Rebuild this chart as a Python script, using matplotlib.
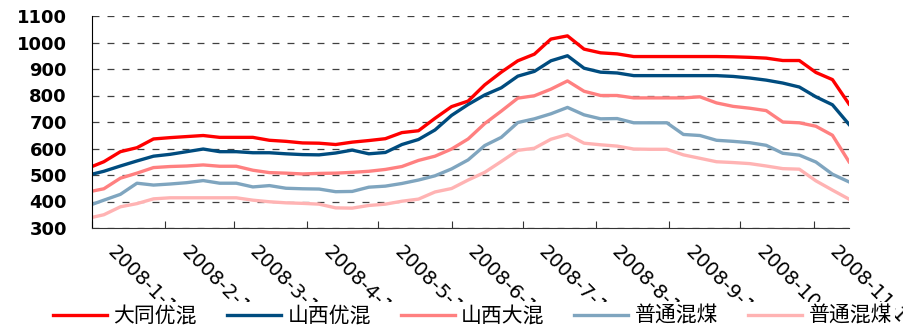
import pandas as pd
import matplotlib
matplotlib.use('Agg')
import matplotlib.pyplot as plt
import matplotlib.dates as mdates
from matplotlib.transforms import ScaledTranslation

plt.rcParams['font.family'] = ['DejaVu Sans', 'Noto Sans CJK SC']
plt.rcParams['lines.scale_dashes'] = False

# 周度价格：1月1日 + 每周日
dates = pd.DatetimeIndex(['2008-01-01']).append(pd.date_range('2008-01-06', '2008-11-16', freq='7D'))

datong_you = [532, 550, 588, 603, 636, 641, 645, 649, 642, 642, 642, 631, 627, 621, 620, 615,
              624, 630, 637, 660, 667, 714, 758, 779, 840, 888, 931, 956, 1013, 1025, 975, 961,
              957, 947, 947, 947, 947, 947, 947, 946, 944, 941, 932, 932, 887, 860, 768]
shanxi_you = [503, 514, 534, 553, 571, 578, 588, 598, 588, 588, 584, 584, 580, 577, 576, 583,
              594, 580, 585, 615, 634, 670, 725, 766, 802, 829, 873, 891, 931, 950, 903, 888,
              885, 875, 875, 875, 875, 875, 875, 872, 866, 858, 847, 832, 795, 765, 691]
shanxi_da = [439, 448, 488, 507, 528, 532, 534, 538, 533, 533, 518, 509, 507, 504, 506, 507,
             510, 514, 521, 532, 555, 571, 598, 636, 694, 741, 790, 799, 824, 855, 816, 800,
             800, 791, 791, 791, 791, 795, 772, 759, 752, 743, 700, 697, 684, 650, 550]
putong_1 = [389, 405, 427, 469, 462, 466, 471, 479, 469, 469, 455, 460, 450, 448, 447, 437,
            438, 454, 458, 468, 481, 497, 523, 557, 611, 642, 698, 712, 731, 755, 727, 712,
            713, 697, 697, 697, 653, 649, 631, 627, 622, 612, 582, 575, 549, 503, 474]
putong_2 = [340, 350, 380, 392, 410, 414, 414, 414, 414, 414, 405, 399, 395, 393, 390, 376,
            375, 385, 390, 401, 409, 436, 449, 481, 510, 551, 593, 601, 635, 653, 620, 614,
            609, 598, 597, 597, 576, 563, 550, 547, 543, 534, 524, 522, 478, 443, 409]

names = ['大同优混', '山西优混', '山西大混', '普通混煤', '普通混煤']
colors = ['#FF0000', '#004C7F', '#FF8080', '#7FA5BF', '#FFB3B3']
series = [datong_you, shanxi_you, shanxi_da, putong_1, putong_2]

fig = plt.figure(figsize=(9.04, 3.27), dpi=100)
ax = fig.add_axes([92 / 904, 1 - 228 / 327, (849 - 92) / 904, (228 - 16) / 327])

for vals, name, c in zip(series, names, colors):
    ax.plot(dates, vals, color=c, lw=2.4, label=name)

ax.set_ylim(300, 1100)
ax.set_yticks(range(300, 1101, 100))
ax.set_xlim(dates[0], dates[-1])

# 月初刻度
month_starts = pd.date_range('2008-01-01', '2008-11-01', freq='MS')
ax.set_xticks(mdates.date2num(month_starts))
ax.set_xticklabels([f'{d.year}-{d.month}-{d.day}' for d in month_starts])

ax.yaxis.grid(True, color='#404040', lw=0.9, dashes=(5, 5.8))
ax.set_axisbelow(True)
for s in ['top', 'right']:
    ax.spines[s].set_visible(False)
ax.spines['left'].set_color('black')
ax.spines['bottom'].set_color('#333333')

ax.tick_params(axis='y', length=0, pad=18, labelsize=13)
for lab in ax.get_yticklabels():
    lab.set_fontweight('bold')
ax.tick_params(axis='x', direction='in', length=5, color='#333333', pad=15, labelsize=14)
for lab in ax.get_xticklabels():
    lab.set_rotation(-45)
    lab.set_rotation_mode('anchor')
    lab.set_ha('left')
    lab.set_va('center')
    lab.set_transform(lab.get_transform() + ScaledTranslation(0.19, 0, fig.dpi_scale_trans))

fig.legend(loc='center', bbox_to_anchor=(50 / 904, 11 / 327, 845 / 904, 0), mode='expand',
           ncol=5, frameon=True, facecolor='white', edgecolor='none', framealpha=1,
           fancybox=False, prop={'family': 'Noto Sans CJK SC', 'size': 15},
           handlelength=2.6, handletextpad=0.3, borderpad=0.15, borderaxespad=0)

fig.savefig('out.png', dpi=100)
